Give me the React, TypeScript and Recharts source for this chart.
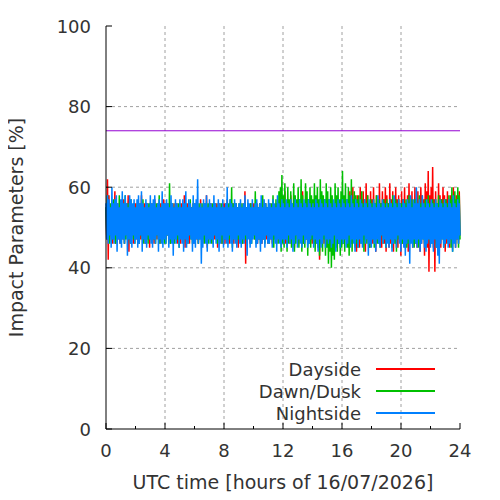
import React from "react";
import {
  LineChart,
  Line,
  XAxis,
  YAxis,
  CartesianGrid,
  ReferenceLine,
  Legend,
} from "recharts";

// one value every 6 minutes (hour by hour)
const dayside = [
  55, 47, 62, 42, 58, 47, 55, 48, 56, 46, 55, 47, 59, 46, 55, 48, 56, 47, 55, 46,
  55, 48, 56, 47, 57, 46, 55, 48, 56, 47, 58, 44, 55, 47, 56, 48, 55, 46, 56, 47,
  56, 47, 55, 48, 56, 46, 55, 47, 58, 48, 55, 47, 56, 46, 55, 48, 56, 47, 55, 45,
  55, 48, 56, 47, 55, 46, 57, 48, 55, 47, 56, 48, 55, 46, 56, 47, 55, 48, 57, 47,
  56, 47, 55, 48, 56, 47, 55, 46, 56, 48, 55, 47, 56, 48, 55, 47, 56, 46, 55, 48,
  55, 46, 56, 48, 55, 47, 58, 45, 55, 48, 56, 47, 55, 46, 56, 48, 55, 47, 56, 46,
  56, 48, 55, 47, 56, 46, 55, 48, 57, 47, 55, 46, 56, 48, 55, 47, 58, 45, 55, 48,
  55, 47, 56, 48, 55, 46, 56, 47, 55, 48, 56, 45, 55, 47, 56, 48, 55, 46, 56, 47,
  56, 46, 55, 48, 57, 47, 55, 46, 56, 48, 55, 47, 56, 46, 55, 48, 56, 47, 55, 45,
  55, 48, 56, 47, 55, 46, 56, 48, 59, 41, 55, 47, 56, 48, 55, 46, 56, 47, 55, 48,
  56, 47, 55, 48, 56, 46, 55, 47, 56, 48, 55, 46, 57, 47, 55, 48, 56, 47, 55, 46,
  55, 48, 56, 47, 55, 46, 56, 48, 55, 47, 56, 46, 55, 48, 56, 47, 55, 46, 56, 48,
  56, 47, 59, 46, 55, 48, 57, 47, 56, 46, 58, 48, 55, 47, 56, 45, 55, 48, 56, 47,
  55, 46, 56, 48, 55, 47, 59, 46, 55, 48, 56, 47, 57, 46, 55, 48, 56, 47, 55, 46,
  56, 48, 55, 47, 56, 46, 55, 48, 56, 42, 55, 47, 56, 48, 55, 46, 57, 47, 55, 48,
  55, 47, 56, 46, 55, 48, 56, 47, 55, 46, 56, 48, 55, 47, 56, 46, 55, 48, 56, 47,
  56, 46, 55, 48, 56, 47, 55, 46, 57, 48, 59, 47, 56, 46, 60, 48, 56, 47, 55, 44,
  58, 47, 56, 45, 60, 48, 57, 46, 59, 47, 56, 44, 61, 47, 58, 46, 56, 45, 59, 47,
  57, 46, 60, 47, 56, 44, 58, 48, 57, 46, 61, 47, 56, 45, 59, 48, 57, 46, 60, 44,
  58, 47, 56, 45, 61, 46, 57, 48, 59, 44, 56, 47, 60, 46, 57, 45, 58, 47, 56, 43,
  59, 46, 57, 48, 60, 45, 56, 47, 58, 44, 61, 46, 57, 48, 59, 45, 56, 47, 60, 46,
  57, 45, 59, 47, 56, 44, 60, 46, 58, 48, 57, 43, 61, 47, 59, 45, 64, 39, 58, 46,
  60, 47, 65, 45, 57, 39, 59, 46, 56, 44, 61, 47, 58, 45, 57, 48, 60, 46, 58, 44,
  57, 46, 59, 47, 56, 45, 58, 48, 57, 46, 60, 47, 56, 45, 58, 47, 57, 46, 59, 48,
];

const dawnDusk = [
  55, 48, 58, 47, 55, 46, 56, 48, 55, 47, 57, 48, 55, 46, 56, 47, 55, 48, 58, 47,
  56, 47, 55, 48, 56, 46, 58, 47, 55, 48, 56, 47, 55, 46, 57, 48, 55, 47, 56, 46,
  55, 48, 56, 47, 55, 46, 56, 48, 55, 47, 57, 46, 55, 48, 56, 47, 55, 46, 56, 48,
  56, 47, 55, 48, 56, 47, 55, 46, 56, 48, 55, 47, 58, 46, 55, 48, 56, 47, 55, 46,
  55, 46, 56, 48, 55, 47, 61, 46, 55, 48, 56, 47, 55, 46, 56, 48, 55, 47, 56, 45,
  56, 48, 55, 47, 56, 46, 55, 48, 56, 47, 55, 46, 56, 48, 57, 47, 55, 46, 56, 48,
  55, 47, 56, 48, 55, 46, 56, 47, 55, 48, 56, 47, 55, 46, 56, 48, 55, 47, 56, 46,
  56, 48, 55, 46, 56, 47, 55, 48, 56, 47, 55, 46, 56, 48, 55, 47, 56, 46, 55, 48,
  55, 47, 56, 48, 55, 46, 56, 47, 57, 48, 60, 45, 56, 47, 55, 48, 56, 46, 55, 47,
  56, 48, 55, 47, 56, 46, 55, 48, 56, 47, 55, 46, 56, 48, 55, 47, 56, 46, 55, 48,
  55, 47, 59, 46, 56, 48, 55, 47, 56, 46, 55, 48, 58, 47, 55, 46, 56, 48, 55, 47,
  56, 46, 55, 48, 56, 47, 58, 45, 55, 47, 57, 48, 56, 46, 59, 47, 60, 44, 63, 46,
  58, 45, 61, 47, 56, 44, 60, 46, 57, 48, 59, 45, 56, 47, 61, 44, 58, 46, 57, 48,
  60, 45, 57, 47, 62, 44, 58, 46, 56, 45, 61, 47, 59, 43, 57, 46, 60, 45, 58, 47,
  57, 46, 61, 44, 58, 47, 60, 45, 57, 43, 62, 46, 59, 44, 58, 47, 57, 43, 61, 45,
  59, 41, 57, 44, 60, 40, 58, 43, 56, 42, 61, 45, 58, 44, 60, 46, 57, 43, 59, 45,
  64, 46, 58, 44, 61, 47, 57, 45, 60, 43, 58, 46, 62, 44, 57, 47, 59, 45, 58, 46,
  57, 45, 58, 47, 56, 46, 59, 48, 56, 44, 57, 47, 56, 46, 58, 48, 56, 45, 57, 47,
  56, 47, 57, 45, 56, 48, 58, 46, 56, 47, 57, 45, 56, 48, 56, 46, 57, 47, 56, 45,
  57, 48, 56, 46, 57, 47, 56, 45, 58, 48, 56, 46, 57, 44, 56, 47, 57, 48, 56, 46,
  56, 46, 57, 48, 56, 47, 57, 45, 56, 46, 58, 48, 56, 47, 57, 46, 56, 45, 57, 47,
  57, 47, 56, 45, 58, 46, 56, 48, 57, 47, 56, 46, 57, 45, 56, 48, 58, 47, 56, 46,
  56, 46, 57, 47, 56, 48, 57, 45, 56, 47, 58, 46, 56, 48, 57, 47, 56, 45, 57, 46,
  57, 48, 56, 46, 58, 47, 57, 45, 60, 44, 56, 47, 59, 46, 57, 48, 60, 45, 58, 47,
];

const nightside = [
  56, 47, 58, 46, 57, 48, 55, 45, 60, 47, 56, 46, 57, 48, 58, 44, 56, 47, 55, 46,
  57, 45, 59, 47, 56, 46, 58, 48, 56, 43, 55, 47, 58, 46, 57, 45, 56, 48, 57, 46,
  55, 47, 57, 45, 58, 46, 56, 48, 59, 44, 56, 47, 55, 46, 57, 45, 56, 48, 55, 47,
  58, 46, 56, 45, 57, 47, 58, 46, 55, 48, 56, 44, 57, 47, 55, 46, 59, 45, 56, 47,
  56, 46, 57, 48, 56, 45, 55, 47, 58, 46, 56, 43, 55, 47, 57, 46, 56, 48, 55, 45,
  57, 47, 55, 46, 57, 44, 56, 47, 59, 45, 55, 46, 57, 48, 56, 47, 55, 44, 58, 46,
  56, 45, 57, 47, 62, 46, 55, 47, 56, 41, 55, 45, 57, 48, 56, 46, 58, 44, 55, 47,
  57, 46, 56, 47, 55, 45, 58, 48, 56, 46, 55, 47, 57, 44, 56, 46, 55, 48, 57, 45,
  55, 47, 56, 46, 60, 45, 55, 48, 57, 46, 56, 44, 55, 47, 57, 46, 56, 45, 55, 48,
  56, 46, 57, 45, 55, 47, 56, 46, 58, 48, 55, 43, 57, 47, 56, 45, 55, 46, 57, 47,
  55, 48, 56, 45, 57, 46, 55, 47, 56, 44, 58, 46, 55, 47, 57, 45, 56, 48, 55, 46,
  57, 46, 56, 47, 55, 45, 57, 48, 56, 46, 55, 44, 58, 47, 56, 46, 55, 45, 57, 47,
  56, 46, 55, 47, 57, 45, 56, 48, 55, 46, 57, 47, 56, 44, 55, 46, 57, 48, 56, 45,
  55, 47, 57, 46, 56, 45, 55, 48, 57, 46, 56, 47, 55, 45, 57, 46, 56, 47, 55, 48,
  56, 45, 55, 47, 57, 46, 56, 44, 55, 47, 57, 45, 56, 46, 55, 48, 57, 45, 56, 47,
  55, 46, 57, 47, 56, 45, 55, 46, 57, 48, 56, 44, 55, 47, 57, 46, 56, 45, 55, 47,
  57, 46, 56, 47, 55, 45, 57, 46, 56, 48, 55, 45, 58, 47, 56, 46, 55, 44, 57, 47,
  56, 45, 55, 47, 57, 46, 56, 45, 55, 48, 57, 46, 56, 47, 55, 43, 57, 46, 56, 45,
  55, 47, 57, 46, 56, 44, 55, 47, 58, 46, 56, 45, 55, 48, 57, 46, 56, 47, 55, 45,
  56, 46, 55, 45, 57, 47, 56, 44, 55, 46, 58, 47, 56, 45, 55, 48, 57, 46, 56, 44,
  55, 47, 57, 45, 56, 43, 55, 46, 57, 47, 56, 41, 58, 46, 55, 45, 57, 47, 56, 46,
  60, 45, 56, 47, 57, 44, 55, 46, 58, 47, 56, 45, 55, 44, 57, 46, 56, 47, 55, 45,
  57, 46, 56, 44, 55, 47, 57, 45, 56, 43, 55, 41, 57, 46, 56, 47, 55, 45, 57, 46,
  56, 47, 55, 45, 57, 46, 56, 47, 55, 44, 58, 46, 56, 45, 55, 47, 57, 46, 56, 48,
];

const xTicks = [0, 2, 4, 6, 8, 10, 12, 14, 16, 18, 20, 22, 24];
const yTicks = [0, 20, 40, 60, 80, 100];
const threshold = 74;

const series = [
  { key: "day", name: "Dayside", color: "#ff0000" },
  { key: "dawn", name: "Dawn/Dusk", color: "#00c000" },
  { key: "night", name: "Nightside", color: "#0080ff" },
];

const rows = nightside.map((v, i) => ({
  t: (i * 24) / (nightside.length - 1),
  day: dayside[i],
  dawn: dawnDusk[i],
  night: v,
}));

const FONT = "DejaVu Sans, sans-serif";
const TEXT = "#333333";

const BottomTick = (props: any) => {
  const { x, y, payload } = props;
  const major = payload.value % 4 === 0;
  return (
    <g>
      <line x1={x} x2={x} y1={y} y2={y - (major ? 6 : 3)} stroke="#000" />
      {major && (
        <text x={x} y={y + 28} textAnchor="middle" fill={TEXT} fontSize={18} fontFamily={FONT}>
          {payload.value}
        </text>
      )}
    </g>
  );
};

const TopTick = (props: any) => {
  const { x, y, payload } = props;
  const major = payload.value % 4 === 0;
  return <line x1={x} x2={x} y1={y} y2={y + (major ? 6 : 3)} stroke="#000" />;
};

const LeftTick = (props: any) => {
  const { x, y, payload } = props;
  return (
    <g>
      <line x1={x} x2={x + 6} y1={y} y2={y} stroke="#000" />
      <text x={x - 15} y={y + 6.5} textAnchor="end" fill={TEXT} fontSize={18} fontFamily={FONT}>
        {payload.value}
      </text>
    </g>
  );
};

const RightTick = (props: any) => {
  const { x, y } = props;
  return <line x1={x} x2={x - 6} y1={y} y2={y} stroke="#000" />;
};

const LegendBox = () => (
  <div style={{ fontFamily: FONT, fontSize: 18, color: TEXT }}>
    {series.map((s) => (
      <div key={s.key} style={{ display: "flex", alignItems: "center", height: 22 }}>
        <span style={{ width: 130, textAlign: "right", whiteSpace: "nowrap" }}>{s.name}</span>
        <span style={{ width: 59, height: 2, marginLeft: 15, background: s.color }} />
      </div>
    ))}
  </div>
);

export default function App() {
  return (
    <div style={{ margin: -8, width: 500, height: 500 }}>
      <LineChart
        width={500}
        height={500}
        data={rows}
        margin={{ top: 26, right: 40, bottom: 0, left: 0 }}
      >
        <CartesianGrid
          stroke="#a0a0a0"
          strokeDasharray="3 3"
          verticalValues={[4, 8, 12, 16, 20]}
          horizontalValues={[20, 40, 60, 80]}
        />
        <XAxis
          dataKey="t"
          type="number"
          domain={[0, 24]}
          ticks={xTicks}
          interval={0}
          height={71}
          tickSize={0}
          tickMargin={0}
          tick={<BottomTick />}
          axisLine={{ stroke: "#000" }}
          label={{
            value: "UTC time [hours of 16/07/2026]",
            position: "insideBottom",
            offset: 11,
            fill: TEXT,
            fontSize: 19,
            fontFamily: FONT,
          }}
        />
        <XAxis
          xAxisId="top"
          orientation="top"
          type="number"
          domain={[0, 24]}
          ticks={xTicks}
          interval={0}
          height={0}
          tickSize={0}
          tickMargin={0}
          tick={<TopTick />}
          axisLine={{ stroke: "#000" }}
        />
        <YAxis
          type="number"
          domain={[0, 100]}
          ticks={yTicks}
          interval={0}
          width={106}
          tickSize={0}
          tickMargin={0}
          tick={<LeftTick />}
          axisLine={{ stroke: "#000" }}
          label={{
            content: (p: any) => {
              const vb = p.viewBox;
              const cx = 23;
              const cy = vb.y + vb.height / 2;
              return (
                <text
                  x={cx}
                  y={cy}
                  transform={`rotate(-90 ${cx} ${cy})`}
                  textAnchor="middle"
                  fill={TEXT}
                  fontSize={19}
                  fontFamily={FONT}
                >
                  Impact Parameters [%]
                </text>
              );
            },
          }}
        />
        <YAxis
          yAxisId="right"
          orientation="right"
          type="number"
          domain={[0, 100]}
          ticks={yTicks}
          interval={0}
          width={0}
          tickSize={0}
          tickMargin={0}
          tick={<RightTick />}
          axisLine={{ stroke: "#000" }}
        />
        <ReferenceLine y={threshold} stroke="#9400d3" strokeWidth={1} ifOverflow="visible" />
        {series.map((s) => (
          <Line
            key={s.key}
            dataKey={s.key}
            name={s.name}
            stroke={s.color}
            strokeWidth={1.5}
            dot={false}
            activeDot={false}
            isAnimationActive={false}
          />
        ))}
        <Legend
          layout="vertical"
          align="center"
          verticalAlign="middle"
          content={<LegendBox />}
          wrapperStyle={{ left: 231, top: 358, width: 210, bottom: "auto", right: "auto" }}
        />
      </LineChart>
    </div>
  );
}
